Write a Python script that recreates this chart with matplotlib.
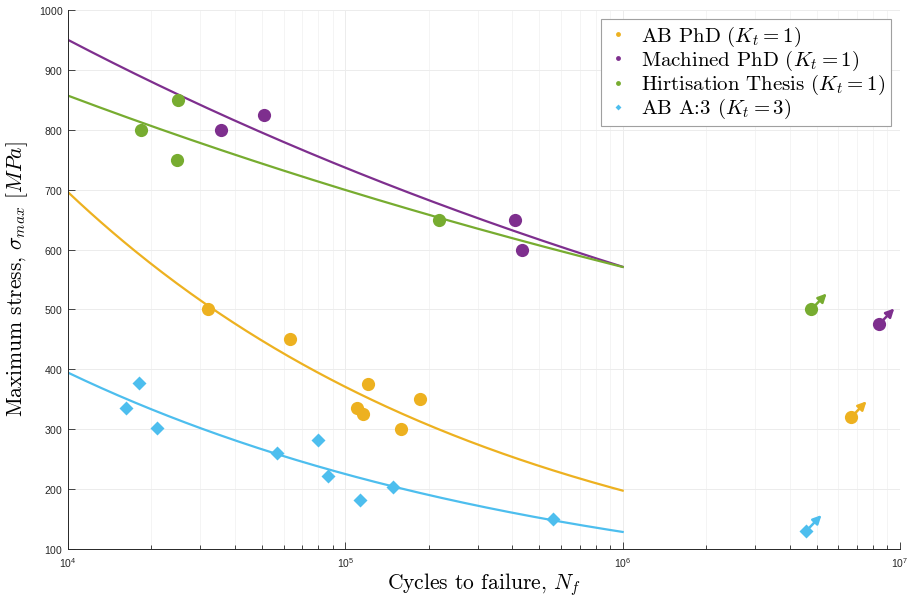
"""S-N curves for as-built, machined and Hirtisation-treated specimens."""

import matplotlib
matplotlib.use("Agg")
import matplotlib.pyplot as plt
from matplotlib.lines import Line2D
import numpy as np

plt.rcParams["mathtext.fontset"] = "cm"
plt.rcParams["axes.formatter.use_mathtext"] = True

# colours (MATLAB default order)
ORANGE = "#EDB120"
PURPLE = "#7E2F8E"
GREEN = "#77AC30"
CYAN = "#4DBEEE"

# failures: cycles and max stress [MPa]
ab_phd_n = [32000, 63000, 110000, 116000, 121000, 159000, 186000]
ab_phd_s = [500, 450, 335, 325, 375, 300, 350]

machined_n = [35500, 50700, 409000, 434000]
machined_s = [800, 825, 650, 600]

hirt_n = [18300, 24700, 25000, 218000]
hirt_s = [800, 750, 850, 650]

ab_a3_n = [16200, 18000, 20900, 56900, 80000, 86900, 113000, 149000, 560000]
ab_a3_s = [335, 378, 302, 260, 282, 222, 182, 203, 150]

# run-outs (no failure)
runout_n = [6.67e6, 8.4e6, 4.79e6, 4.59e6]
runout_s = [320, 475, 500, 130]

# Basquin fits, sigma = sigma_f * N**b
fit_sigma_f = [8640, 2629, 1931, 3719]
fit_b = [-0.2735, -0.1105, -0.0882, -0.2436]

colors = [ORANGE, PURPLE, GREEN, CYAN]
labels = [
    r"AB PhD ($K_t = 1$)",
    r"Machined PhD ($K_t = 1$)",
    r"Hirtisation Thesis ($K_t = 1$)",
    r"AB A:3 ($K_t = 3$)",
]

fig = plt.figure(figsize=(9.11, 5.98), dpi=100)
ax = fig.add_axes([68 / 911, 1 - 549 / 598, (900 - 68) / 911, (549 - 10) / 598])

n_fit = np.logspace(4, 6, 200)
for sf, b, c in zip(fit_sigma_f, fit_b, colors):
    ax.plot(n_fit, sf * n_fit ** b, color=c, lw=1.6, zorder=2)

groups = [(ab_phd_n, ab_phd_s, "o"), (machined_n, machined_s, "o"),
          (hirt_n, hirt_s, "o"), (ab_a3_n, ab_a3_s, "D")]
for (n, s, m), c in zip(groups, colors):
    ms = 9.5 if m == "o" else 7.5
    ax.plot(n, s, ls="none", marker=m, ms=ms, color=c, mec="none", zorder=3)

for n, s, c, m in zip(runout_n, runout_s, colors, ["o", "o", "o", "D"]):
    ms = 9.5 if m == "o" else 7.5
    ax.plot([n], [s], ls="none", marker=m, ms=ms, color=c, mec="none", zorder=3)
    ax.annotate("", xy=(n, s), xytext=(11, 11.5), textcoords="offset points",
                arrowprops=dict(arrowstyle="<|-,head_length=0.5,head_width=0.25",
                                color=c, lw=1.8, shrinkA=0, shrinkB=0),
                zorder=3)

ax.set_xscale("log")
ax.set_xlim(1e4, 1e7)
ax.set_ylim(100, 1000)
ax.set_yticks(np.arange(100, 1001, 100))

ax.grid(True, which="major", color="#ececec", lw=0.7)
ax.grid(True, which="minor", axis="x", color="#f2f2f2", lw=0.6)
ax.set_axisbelow(True)

for side in ("top", "right"):
    ax.spines[side].set_visible(False)
for side in ("left", "bottom"):
    ax.spines[side].set_color("#262626")
    ax.spines[side].set_linewidth(0.7)

ax.tick_params(which="both", direction="in", colors="#262626", width=0.6,
               labelsize=7.5, labelfontfamily="Liberation Sans")
ax.tick_params(which="major", length=5)
ax.tick_params(which="minor", length=3)
ax.tick_params(axis="x", which="major", pad=5)

label_font = dict(family="cmr10", size=15.5)
ax.set_xlabel(r"Cycles to failure, $N_f$", fontdict=label_font, labelpad=1)
ax.set_ylabel(r"Maximum stress, $\sigma_{max}$ $[MPa]$", fontdict=label_font, labelpad=6)

handles = [Line2D([], [], ls="none", marker="o", ms=3.5, color=c, mec="none")
           for c in colors[:3]]
handles.append(Line2D([], [], ls="none", marker="D", ms=3, color=CYAN, mec="none"))
leg = ax.legend(handles, labels, loc="upper right", bbox_to_anchor=(1.0, 1.0),
                prop=dict(family="cmr10", size=15), fancybox=False,
                framealpha=1, edgecolor="#a0a0a0", handlelength=1.2,
                handletextpad=0.5, borderpad=0.25, labelspacing=0.0,
                borderaxespad=0.45)
leg.get_frame().set_linewidth(0.8)

fig.savefig("out.png", dpi=100)
